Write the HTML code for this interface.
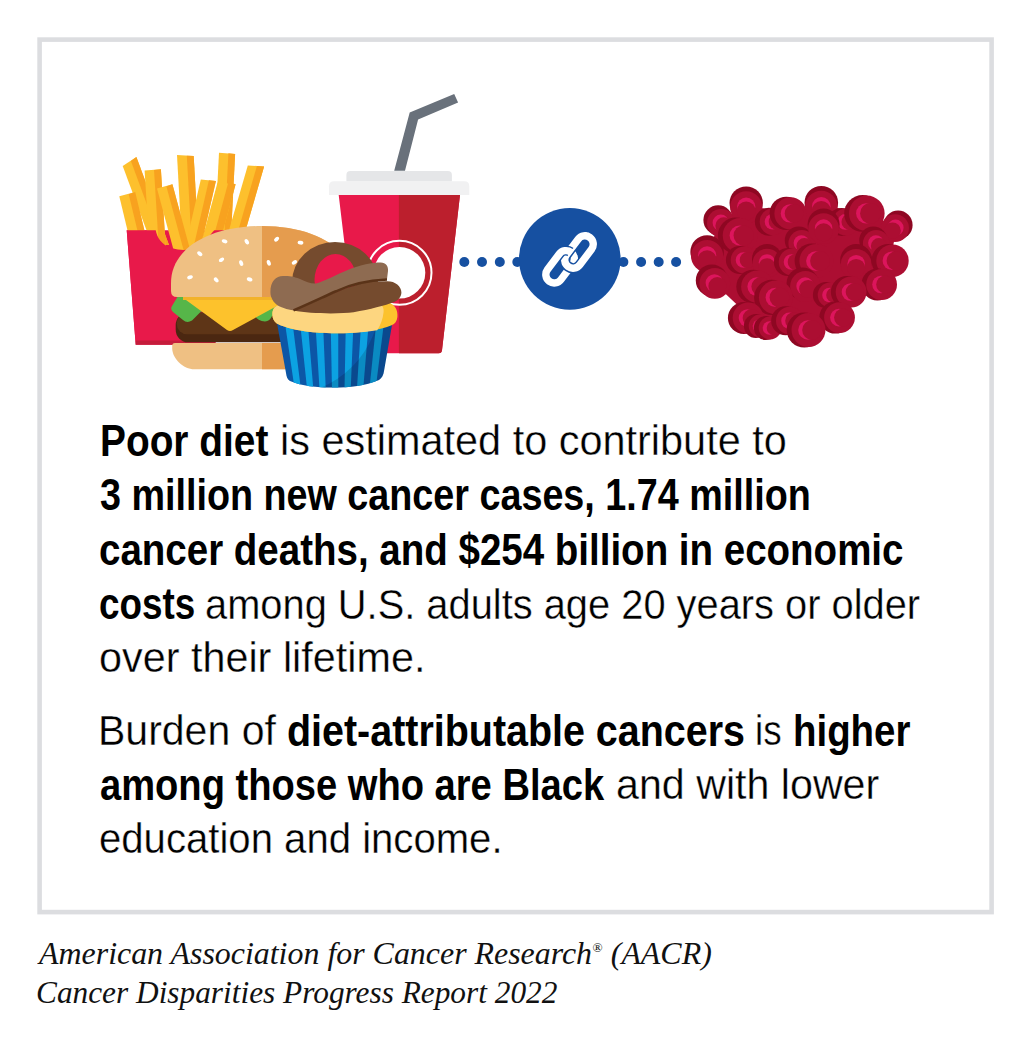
<!DOCTYPE html>
<html><head><meta charset="utf-8"><title>Poor diet and cancer</title>
<style>
html,body{margin:0;padding:0;background:#fff;}
body{width:1031px;height:1050px;position:relative;overflow:hidden;}
svg{position:absolute;left:0;top:0;}
.ln{position:absolute;white-space:nowrap;font-family:"Liberation Sans",Arial,sans-serif;font-size:44px;line-height:44px;color:#000;transform-origin:0 0;}
.b{font-weight:700;-webkit-text-stroke:0;}
.r{-webkit-text-stroke:0.35px #fff;}
.ft{position:absolute;white-space:nowrap;font-family:"Liberation Serif","Times New Roman",serif;font-style:italic;font-size:32px;line-height:32px;color:#111;transform-origin:0 0;}
.ft sup{font-size:0.42em;line-height:0;vertical-align:0;position:relative;top:-0.95em;margin-left:0.5px;font-style:normal;}
</style></head><body>
<svg width="1031" height="1050" viewBox="0 0 1031 1050">
<rect x="39.6" y="39.6" width="952" height="872.5" fill="none" stroke="#dcdde0" stroke-width="4.6"/>
<polygon points="126.7,230.3 224.3,230.3 215.3,344.8 135.7,344.8" fill="#e8194a"/>
<polygon points="122.7,165.9 136.4,157.0 169.0,245.0 152.0,245.0" fill="#fdc02d"/>
<polygon points="130.9,161.1 136.4,157.0 169.0,245.0 161.9,245.0" fill="#f8a21f"/>
<polygon points="144.6,170.4 160.9,169.3 166.6,262.0 150.3,262.0" fill="#fdc02d"/>
<polygon points="154.0,170.0 160.9,169.3 166.6,262.0 159.7,262.0" fill="#f8a21f"/>
<polygon points="177.0,155.1 193.7,156.0 199.5,262.0 182.9,262.0" fill="#fdc02d"/>
<polygon points="186.8,155.7 193.7,156.0 199.5,262.0 192.6,262.0" fill="#f8a21f"/>
<polygon points="200.8,179.4 215.9,181.0 197.3,262.0 181.8,262.0" fill="#fdc02d"/>
<polygon points="208.9,180.3 215.9,181.0 197.3,262.0 190.1,262.0" fill="#f8a21f"/>
<polygon points="219.0,152.7 235.1,153.9 230.3,250.0 214.1,250.0" fill="#fdc02d"/>
<polygon points="228.4,153.3 235.1,153.9 230.3,250.0 223.6,250.0" fill="#f8a21f"/>
<polygon points="247.8,165.4 264.1,166.5 241.3,245.0 224.7,245.0" fill="#fdc02d"/>
<polygon points="256.9,166.0 264.1,166.5 241.3,245.0 234.0,245.0" fill="#f8a21f"/>
<polygon points="217.5,182.5 235.6,184.3 214.6,262.0 196.0,262.0" fill="#fdc02d"/>
<polygon points="228.4,182.1 235.6,184.3 214.6,262.0 206.8,262.0" fill="#f8a21f"/>
<polygon points="157.0,188.6 172.4,184.3 193.4,262.0 176.8,262.0" fill="#fdc02d"/>
<polygon points="166.4,186.4 172.4,184.3 193.4,262.0 186.8,262.0" fill="#f8a21f"/>
<polygon points="119.3,196.3 135.2,192.0 146.7,240.0 129.8,240.0" fill="#fdc02d"/>
<polygon points="128.7,194.2 135.2,192.0 146.7,240.0 139.7,240.0" fill="#f8a21f"/>
<path d="M126.7,230.3 L155.7,230.3 C157,237 161,245 172,248.3 C180,250.5 188,250.5 196,248 C206,244 210,234 214.3,230.3 L224.3,230.3 L215.6,340.6 L135.4,340.6 Z" fill="#e8194a"/>
<polygon points="135.4,340.6 215.6,340.6 215.3,344.8 135.7,344.8" fill="#c41c3b"/>
<defs><clipPath id="rh"><rect x="262.1" y="0" width="200" height="500"/></clipPath></defs>
<path id="bb" d="M175,343.1 L330,343.1 L330,369.3 L194.4,369.3 C183,369.3 172.2,358 172.2,348.5 L172.2,346 Q172.2,343.1 175,343.1 Z" fill="#efc083"/>
<path d="M175,343.1 L330,343.1 L330,369.3 L194.4,369.3 C183,369.3 172.2,358 172.2,348.5 L172.2,346 Q172.2,343.1 175,343.1 Z" fill="#e59c4e" clip-path="url(#rh)"/>
<rect x="175.7" y="312.6" width="160" height="29.7" rx="12.5" fill="#4b2711"/>
<rect x="176.7" y="312.6" width="159" height="21.7" rx="10.5" fill="#5e3517"/>
<rect x="186" y="320" width="150" height="13.5" fill="#5e3517"/>
<path d="M178,296 L300,296 L300,316 L272,316 Q270,321 265,321.5 Q258,321 254,315 L201,311.5 L192,320.5 Q187,323.5 183,320 L173,312 Q170,309 172,306 Z" fill="#56b649"/>
<path d="M183,296 L300,296 L300,303 L276,306.5 L233,330 Q230,332 227,330 L186,300 Z" fill="#fdc22c"/>
<rect x="183" y="296" width="117" height="4" fill="#f2b22a"/>
<path d="M171,283 C171,248 210,226 262,226 C314,226 353,248 353,283 L353,291 Q353,297 347,297 L177,297 Q171,297 171,291 Z" fill="#efc083"/>
<path d="M171,283 C171,248 210,226 262,226 C314,226 353,248 353,283 L353,291 Q353,297 347,297 L177,297 Q171,297 171,291 Z" fill="#e59c4e" clip-path="url(#rh)"/>
<ellipse cx="224.6" cy="241.3" rx="2.9" ry="1.9" transform="rotate(20 224.6 241.3)" fill="#fff"/>
<ellipse cx="246.8" cy="241.8" rx="2.9" ry="1.9" transform="rotate(60 246.8 241.8)" fill="#fff"/>
<ellipse cx="199.8" cy="253.7" rx="2.9" ry="1.9" transform="rotate(40 199.8 253.7)" fill="#fff"/>
<ellipse cx="221.5" cy="259.8" rx="2.9" ry="1.9" transform="rotate(-30 221.5 259.8)" fill="#fff"/>
<ellipse cx="241.2" cy="263.1" rx="2.9" ry="1.9" transform="rotate(70 241.2 263.1)" fill="#fff"/>
<ellipse cx="190.0" cy="277.3" rx="2.9" ry="1.9" transform="rotate(-20 190.0 277.3)" fill="#fff"/>
<ellipse cx="216.2" cy="279.9" rx="2.9" ry="1.9" transform="rotate(50 216.2 279.9)" fill="#fff"/>
<ellipse cx="249.6" cy="279.4" rx="2.9" ry="1.9" transform="rotate(20 249.6 279.4)" fill="#fff"/>
<ellipse cx="276.6" cy="239.2" rx="2.9" ry="1.9" transform="rotate(-40 276.6 239.2)" fill="#fff"/>
<ellipse cx="300.5" cy="242.7" rx="2.9" ry="1.9" transform="rotate(10 300.5 242.7)" fill="#fff"/>
<ellipse cx="268.8" cy="262.8" rx="2.9" ry="1.9" transform="rotate(70 268.8 262.8)" fill="#fff"/>
<ellipse cx="294.4" cy="262.4" rx="2.9" ry="1.9" transform="rotate(-30 294.4 262.4)" fill="#fff"/>
<polygon points="394.2,170.7 409.7,112.6 454.2,94.0 458.1,102.4 418.1,119.5 405.0,170.7" fill="#69717b"/>
<path d="M346.4,181.5 L346.4,175.1 Q346.4,171.1 350.4,171.1 L447.9,171.1 Q451.9,171.1 451.9,175.1 L451.9,181.5 Z" fill="#e5e6e8"/>
<path d="M329,195 L329,186.2 Q329,181.2 334,181.2 L464.3,181.2 Q469.3,181.2 469.3,186.2 L469.3,195 Z" fill="#f1f1f2"/>
<path d="M338.7,195 L460,195 L442,350.3 Q441.7,353.3 438.7,353.3 L360.5,353.3 Q357.5,353.3 357.2,350.3 Z" fill="#e8194a"/>
<path d="M398.9,195 L460,195 L442,350.3 Q441.7,353.3 438.7,353.3 L398.9,353.3 Z" fill="#bc1f2d"/>
<circle cx="399.5" cy="272.8" r="32" fill="none" stroke="#fff" stroke-width="2"/>
<circle cx="399.5" cy="272.8" r="25.8" fill="#fff"/>
<defs><clipPath id="wr"><path d="M276.8,322 L392.5,322 L384.2,370 C383.5,375 382,378 379,380 C365,386 350,387.5 333,387.5 C316,387.5 302,386 290,381 C287.5,379.5 286.5,377 286,373 Z"/></clipPath></defs>
<g clip-path="url(#wr)">
<rect x="270" y="315" width="130" height="80" fill="#0c56a6"/>
<polygon points="284.5,320.0 292.2,320.0 301.0,390.0 294.8,390.0" fill="#0ca2e2"/>
<polygon points="299.8,320.0 307.5,320.0 313.4,390.0 307.2,390.0" fill="#0ca2e2"/>
<polygon points="315.2,320.0 322.9,320.0 325.8,390.0 319.6,390.0" fill="#0ca2e2"/>
<polygon points="330.6,320.0 338.2,320.0 338.3,390.0 332.0,390.0" fill="#0ca2e2"/>
<polygon points="345.9,320.0 353.6,320.0 350.7,390.0 344.5,390.0" fill="#0ca2e2"/>
<polygon points="361.3,320.0 369.0,320.0 363.1,390.0 356.9,390.0" fill="#0ca2e2"/>
<polygon points="376.6,320.0 384.3,320.0 375.5,390.0 369.3,390.0" fill="#0ca2e2"/>
<path d="M270,315 L400,315 L400,395 L270,395 Z M284.1,298.9 m-96.1,0 a96.1,96.1 0 1,0 192.2,0 a96.1,96.1 0 1,0 -192.2,0 Z" fill="#000" fill-opacity="0.14" fill-rule="evenodd"/>
</g>
<path d="M272.4,314.8 C272,309 275,305.5 281,304.5 L388,302.5 C395,304 398,310 397.4,317 C397,321 395,324 391.6,325.2 C380,330 360,333.5 331.5,333.3 C305,333 285,328 276.8,323.6 C274,321.5 272.5,318.5 272.4,314.8 Z" fill="#fcc22d"/>
<path d="M272.4,314.8 C272,309 275,305.5 281,304.5 L380,303.5 C383,306 384,309 383.6,312 C383,319 380.5,325 377.2,330.2 C362,332.8 345,333.4 331.5,333.3 C305,333 285,328 276.8,323.6 C274,321.5 272.5,318.5 272.4,314.8 Z" fill="#fdd680"/>
<defs><clipPath id="lp"><rect x="280" y="230" width="120" height="68"/></clipPath></defs>
<ellipse cx="335" cy="282" rx="43" ry="40" fill="#754b2e" clip-path="url(#lp)"/>
<ellipse cx="335.5" cy="280" rx="21" ry="26" fill="#e8194a" clip-path="url(#lp)"/>
<path d="M270.4,292.3 C270.4,281 276,276 283,276 C290,276 293,276.3 300,279 C306,281.5 311,284 316,283.5 C325,281 335,275 349.5,269.2 C360,265 372,262.4 380.7,262.4 C386,262.4 388.5,266 388,271 L387,279 C370,281 350,285 336,292.3 C320,299 305,306 294,310.5 C288,309.5 284,308.5 281.6,307.3 C275,305 270.4,299 270.4,292.3 Z" fill="#8e6b51"/>
<path d="M293.8,310.5 C305,306 320,299 336,292.3 C350,285.5 370,281 386.8,281.2 C395,281 401.4,286 401.4,292.6 C401.4,297 398,300.5 394.3,302.1 C385,305.5 370,309.5 353.6,312.3 C340,314 310,314 293.8,310.5 Z" fill="#754b2e"/>
<path d="M293.5,310.4 C305,305.5 320,298.5 336,291.3 C350,284.5 370,280.3 387,279.5" fill="none" stroke="#5a3318" stroke-width="2.6"/>
<circle cx="464.3" cy="262" r="5" fill="#1650a1"/>
<circle cx="482.0" cy="262" r="5" fill="#1650a1"/>
<circle cx="499.8" cy="262" r="5" fill="#1650a1"/>
<circle cx="517.3" cy="262" r="5" fill="#1650a1"/>
<circle cx="623.4" cy="262" r="5" fill="#1650a1"/>
<circle cx="641.1" cy="262" r="5" fill="#1650a1"/>
<circle cx="658.7" cy="262" r="5" fill="#1650a1"/>
<circle cx="676.1" cy="262" r="5" fill="#1650a1"/>
<circle cx="569.8" cy="258.9" r="50.8" fill="#1650a1"/>
<rect x="560.85" y="243.60" width="36.30" height="16.80" rx="8.40" transform="rotate(-53.1 579.00 252.00)" fill="none" stroke="#fff" stroke-width="7.4"/>
<rect x="541.95" y="258.40" width="36.30" height="16.80" rx="8.40" transform="rotate(-53.1 560.10 266.80)" fill="none" stroke="#1650a1" stroke-width="10.4"/>
<rect x="541.95" y="258.40" width="36.30" height="16.80" rx="8.40" transform="rotate(-53.1 560.10 266.80)" fill="none" stroke="#fff" stroke-width="7.4"/>
<defs><clipPath id="lk"><polygon points="541,294 611,200 640,230 600,300"/></clipPath><clipPath id="lk2"><polygon points="539.8,293.1 609.8,199.1 640,230 600,300"/></clipPath></defs>
<g clip-path="url(#lk)"><rect x="560.85" y="243.60" width="36.30" height="16.80" rx="8.40" transform="rotate(-53.1 579.00 252.00)" fill="none" stroke="#1650a1" stroke-width="10.4"/></g>
<g clip-path="url(#lk2)"><rect x="560.85" y="243.60" width="36.30" height="16.80" rx="8.40" transform="rotate(-53.1 579.00 252.00)" fill="none" stroke="#fff" stroke-width="7.4"/></g>
<polygon points="720,222 746,205 788,213 821,205 865,213 897,227 890,261 883,281 848,292 837,318 806,330 788,321 766,327 749,316 713,282 707,254" fill="#ac0e32"/>
<circle cx="718.2" cy="220.1" r="14.8" fill="#8e0722"/>
<circle cx="721.2" cy="223.1" r="14.2" fill="#ac0e32"/>
<circle cx="720.8" cy="222.7" r="8.2" fill="#dc155c"/>
<circle cx="723.8" cy="225.7" r="8.4" fill="#ac0e32"/>
<circle cx="746.2" cy="203.1" r="16.7" fill="#8e0722"/>
<circle cx="746.2" cy="207.3" r="16.1" fill="#ac0e32"/>
<circle cx="746.2" cy="206.7" r="9.2" fill="#dc155c"/>
<circle cx="746.2" cy="210.9" r="9.4" fill="#ac0e32"/>
<circle cx="768.9" cy="221.7" r="14.0" fill="#8e0722"/>
<circle cx="773.1" cy="221.7" r="13.4" fill="#ac0e32"/>
<circle cx="772.5" cy="221.7" r="7.8" fill="#dc155c"/>
<circle cx="776.7" cy="221.7" r="8.0" fill="#ac0e32"/>
<circle cx="786.3" cy="213.4" r="16.7" fill="#8e0722"/>
<circle cx="790.5" cy="213.4" r="16.1" fill="#ac0e32"/>
<circle cx="789.9" cy="213.4" r="9.2" fill="#dc155c"/>
<circle cx="794.1" cy="213.4" r="9.4" fill="#ac0e32"/>
<circle cx="821.3" cy="202.7" r="16.8" fill="#8e0722"/>
<circle cx="821.3" cy="206.9" r="16.2" fill="#ac0e32"/>
<circle cx="821.3" cy="206.3" r="9.3" fill="#dc155c"/>
<circle cx="821.3" cy="210.5" r="9.5" fill="#ac0e32"/>
<circle cx="841.7" cy="221.9" r="14.0" fill="#8e0722"/>
<circle cx="845.9" cy="221.9" r="13.4" fill="#ac0e32"/>
<circle cx="845.3" cy="221.9" r="7.8" fill="#dc155c"/>
<circle cx="849.5" cy="221.9" r="8.0" fill="#ac0e32"/>
<circle cx="862.6" cy="213.4" r="18.4" fill="#8e0722"/>
<circle cx="866.8" cy="213.4" r="17.8" fill="#ac0e32"/>
<circle cx="866.2" cy="213.4" r="10.1" fill="#dc155c"/>
<circle cx="870.4" cy="213.4" r="10.3" fill="#ac0e32"/>
<circle cx="898.1" cy="225.1" r="14.5" fill="#8e0722"/>
<circle cx="895.1" cy="228.1" r="13.9" fill="#ac0e32"/>
<circle cx="895.5" cy="227.7" r="8.1" fill="#dc155c"/>
<circle cx="892.5" cy="230.7" r="8.3" fill="#ac0e32"/>
<circle cx="735.9" cy="235.5" r="18.0" fill="#8e0722"/>
<circle cx="740.1" cy="235.5" r="17.4" fill="#ac0e32"/>
<circle cx="739.5" cy="235.5" r="9.9" fill="#dc155c"/>
<circle cx="743.7" cy="235.5" r="10.1" fill="#ac0e32"/>
<circle cx="798.8" cy="240.5" r="14.0" fill="#8e0722"/>
<circle cx="801.8" cy="243.5" r="13.4" fill="#ac0e32"/>
<circle cx="801.4" cy="243.1" r="7.8" fill="#dc155c"/>
<circle cx="804.4" cy="246.1" r="8.0" fill="#ac0e32"/>
<circle cx="823.6" cy="224.5" r="16.0" fill="#8e0722"/>
<circle cx="823.6" cy="228.7" r="15.4" fill="#ac0e32"/>
<circle cx="823.6" cy="228.1" r="8.8" fill="#dc155c"/>
<circle cx="823.6" cy="232.3" r="9.0" fill="#ac0e32"/>
<circle cx="873.3" cy="240.5" r="14.0" fill="#8e0722"/>
<circle cx="876.3" cy="243.5" r="13.4" fill="#ac0e32"/>
<circle cx="875.9" cy="243.1" r="7.8" fill="#dc155c"/>
<circle cx="878.9" cy="246.1" r="8.0" fill="#ac0e32"/>
<circle cx="707.1" cy="251.9" r="16.7" fill="#8e0722"/>
<circle cx="707.1" cy="256.1" r="16.1" fill="#ac0e32"/>
<circle cx="707.1" cy="255.5" r="9.2" fill="#dc155c"/>
<circle cx="707.1" cy="259.7" r="9.4" fill="#ac0e32"/>
<circle cx="739.9" cy="260.0" r="14.0" fill="#8e0722"/>
<circle cx="744.1" cy="260.0" r="13.4" fill="#ac0e32"/>
<circle cx="743.5" cy="260.0" r="7.8" fill="#dc155c"/>
<circle cx="747.7" cy="260.0" r="8.0" fill="#ac0e32"/>
<circle cx="767.0" cy="258.9" r="15.0" fill="#8e0722"/>
<circle cx="767.0" cy="263.1" r="14.4" fill="#ac0e32"/>
<circle cx="767.0" cy="262.5" r="8.3" fill="#dc155c"/>
<circle cx="767.0" cy="266.7" r="8.5" fill="#ac0e32"/>
<circle cx="787.9" cy="262.0" r="14.0" fill="#8e0722"/>
<circle cx="792.1" cy="262.0" r="13.4" fill="#ac0e32"/>
<circle cx="791.5" cy="262.0" r="7.8" fill="#dc155c"/>
<circle cx="795.7" cy="262.0" r="8.0" fill="#ac0e32"/>
<circle cx="812.2" cy="261.0" r="17.6" fill="#8e0722"/>
<circle cx="816.4" cy="261.0" r="17.0" fill="#ac0e32"/>
<circle cx="815.8" cy="261.0" r="9.7" fill="#dc155c"/>
<circle cx="820.0" cy="261.0" r="9.9" fill="#ac0e32"/>
<circle cx="856.2" cy="260.1" r="16.0" fill="#8e0722"/>
<circle cx="856.2" cy="264.3" r="15.4" fill="#ac0e32"/>
<circle cx="856.2" cy="263.7" r="8.8" fill="#dc155c"/>
<circle cx="856.2" cy="267.9" r="9.0" fill="#ac0e32"/>
<circle cx="888.3" cy="260.7" r="16.8" fill="#8e0722"/>
<circle cx="892.5" cy="260.7" r="16.2" fill="#ac0e32"/>
<circle cx="891.9" cy="260.7" r="9.3" fill="#dc155c"/>
<circle cx="896.1" cy="260.7" r="9.5" fill="#ac0e32"/>
<circle cx="711.8" cy="280.4" r="16.0" fill="#8e0722"/>
<circle cx="714.8" cy="283.4" r="15.4" fill="#ac0e32"/>
<circle cx="714.4" cy="283.0" r="8.8" fill="#dc155c"/>
<circle cx="717.4" cy="286.0" r="9.0" fill="#ac0e32"/>
<circle cx="753.1" cy="286.6" r="16.8" fill="#8e0722"/>
<circle cx="757.3" cy="286.6" r="16.2" fill="#ac0e32"/>
<circle cx="756.7" cy="286.6" r="9.3" fill="#dc155c"/>
<circle cx="760.9" cy="286.6" r="9.5" fill="#ac0e32"/>
<circle cx="802.5" cy="283.5" r="16.0" fill="#8e0722"/>
<circle cx="805.5" cy="286.5" r="15.4" fill="#ac0e32"/>
<circle cx="805.1" cy="286.1" r="8.8" fill="#dc155c"/>
<circle cx="808.1" cy="289.1" r="9.0" fill="#ac0e32"/>
<circle cx="825.9" cy="295.0" r="13.0" fill="#8e0722"/>
<circle cx="830.1" cy="295.0" r="12.4" fill="#ac0e32"/>
<circle cx="829.5" cy="295.0" r="7.3" fill="#dc155c"/>
<circle cx="833.7" cy="295.0" r="7.5" fill="#ac0e32"/>
<circle cx="877.4" cy="284.5" r="16.0" fill="#8e0722"/>
<circle cx="881.6" cy="284.5" r="15.4" fill="#ac0e32"/>
<circle cx="881.0" cy="284.5" r="8.8" fill="#dc155c"/>
<circle cx="885.2" cy="284.5" r="9.0" fill="#ac0e32"/>
<circle cx="771.7" cy="297.4" r="17.6" fill="#8e0722"/>
<circle cx="775.9" cy="297.4" r="17.0" fill="#ac0e32"/>
<circle cx="775.3" cy="297.4" r="9.7" fill="#dc155c"/>
<circle cx="779.5" cy="297.4" r="9.9" fill="#ac0e32"/>
<circle cx="846.9" cy="292.0" r="16.0" fill="#8e0722"/>
<circle cx="851.1" cy="292.0" r="15.4" fill="#ac0e32"/>
<circle cx="850.5" cy="292.0" r="8.8" fill="#dc155c"/>
<circle cx="854.7" cy="292.0" r="9.0" fill="#ac0e32"/>
<circle cx="743.9" cy="318.0" r="16.0" fill="#8e0722"/>
<circle cx="748.1" cy="318.0" r="15.4" fill="#ac0e32"/>
<circle cx="747.5" cy="318.0" r="8.8" fill="#dc155c"/>
<circle cx="751.7" cy="318.0" r="9.0" fill="#ac0e32"/>
<circle cx="755.9" cy="326.0" r="12.0" fill="#8e0722"/>
<circle cx="760.1" cy="326.0" r="11.4" fill="#ac0e32"/>
<circle cx="759.5" cy="326.0" r="6.8" fill="#dc155c"/>
<circle cx="763.7" cy="326.0" r="7.0" fill="#ac0e32"/>
<circle cx="765.9" cy="328.0" r="12.0" fill="#8e0722"/>
<circle cx="770.1" cy="328.0" r="11.4" fill="#ac0e32"/>
<circle cx="769.5" cy="328.0" r="6.8" fill="#dc155c"/>
<circle cx="773.7" cy="328.0" r="7.0" fill="#ac0e32"/>
<circle cx="785.7" cy="320.7" r="14.5" fill="#8e0722"/>
<circle cx="789.9" cy="320.7" r="13.9" fill="#ac0e32"/>
<circle cx="789.3" cy="320.7" r="8.1" fill="#dc155c"/>
<circle cx="793.5" cy="320.7" r="8.3" fill="#ac0e32"/>
<circle cx="835.3" cy="317.6" r="16.0" fill="#8e0722"/>
<circle cx="839.5" cy="317.6" r="15.4" fill="#ac0e32"/>
<circle cx="838.9" cy="317.6" r="8.8" fill="#dc155c"/>
<circle cx="843.1" cy="317.6" r="9.0" fill="#ac0e32"/>
<circle cx="804.3" cy="330.0" r="17.6" fill="#8e0722"/>
<circle cx="808.5" cy="330.0" r="17.0" fill="#ac0e32"/>
<circle cx="807.9" cy="330.0" r="9.7" fill="#dc155c"/>
<circle cx="812.1" cy="330.0" r="9.9" fill="#ac0e32"/>
</svg>
<div class="ln b" style="top:418.8px;left:99.95px;font-size:44px;line-height:44px;transform:scaleX(0.8829)">Poor diet</div>
<div class="ln r" style="top:420.4px;left:280.04px;font-size:42px;line-height:42px;transform:scaleX(0.9868)">is estimated to contribute to</div>
<div class="ln b" style="top:473.2px;left:100.44px;font-size:44px;line-height:44px;transform:scaleX(0.8573)">3 million new cancer cases, 1.74 million</div>
<div class="ln b" style="top:527.7px;left:98.75px;font-size:44px;line-height:44px;transform:scaleX(0.8750)">cancer deaths, and $254 billion in economic</div>
<div class="ln b" style="top:582.0px;left:98.83px;font-size:44px;line-height:44px;transform:scaleX(0.8369)">costs</div>
<div class="ln r" style="top:583.6px;left:205.00px;font-size:42px;line-height:42px;transform:scaleX(0.9483)">among U.S. adults age 20 years or older</div>
<div class="ln r" style="top:637.1px;left:98.53px;font-size:42px;line-height:42px;transform:scaleX(0.9847)">over their lifetime.</div>
<div class="ln r" style="top:710.2px;left:98.09px;font-size:42px;line-height:42px;transform:scaleX(0.9764)">Burden of</div>
<div class="ln b" style="top:708.6px;left:287.21px;font-size:44px;line-height:44px;transform:scaleX(0.8961)">diet-attributable cancers</div>
<div class="ln r" style="top:710.2px;left:755.17px;font-size:42px;line-height:42px;transform:scaleX(0.8769)">is</div>
<div class="ln b" style="top:708.6px;left:793.48px;font-size:44px;line-height:44px;transform:scaleX(0.8733)">higher</div>
<div class="ln b" style="top:762.8px;left:99.63px;font-size:44px;line-height:44px;transform:scaleX(0.8663)">among those who are Black</div>
<div class="ln r" style="top:764.4px;left:616.24px;font-size:42px;line-height:42px;transform:scaleX(0.9805)">and with lower</div>
<div class="ln r" style="top:818.1px;left:98.59px;font-size:42px;line-height:42px;transform:scaleX(0.9549)">education and income.</div>
<div class="ft" style="top:937.4px;left:39.40px;transform:scaleX(0.9973)">American Association for Cancer Research<sup>®</sup> (AACR)</div>
<div class="ft" style="top:975.8px;left:36.44px;transform:scaleX(0.9787)">Cancer Disparities Progress Report 2022</div>
</body></html>
